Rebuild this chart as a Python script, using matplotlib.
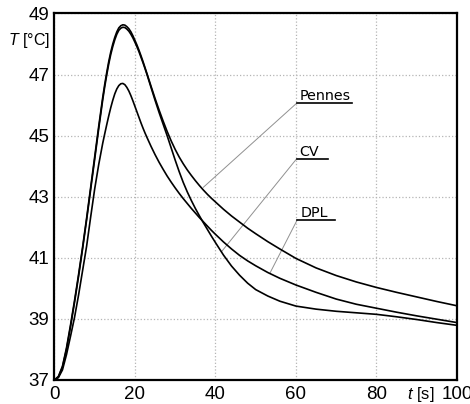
import matplotlib
matplotlib.use("Agg")
import matplotlib.pyplot as plt

plt.rcParams["mathtext.fontset"] = "custom"
plt.rcParams["mathtext.rm"] = "Liberation Sans"
plt.rcParams["mathtext.it"] = "Liberation Sans:italic"

# time [s], shared by the three models
t = [0, 1, 2, 3, 4, 5, 6, 7, 8, 9, 10, 11, 12, 12.5, 13, 13.5, 14, 14.5, 15, 15.5,
     16, 16.5, 17, 17.5, 18, 18.5, 19, 19.5, 20, 20.5, 21, 21.5, 22, 22.5, 23, 24,
     25, 26, 27, 28, 29, 30, 31, 32, 33, 34, 35, 36, 37, 38, 39, 40, 42, 44, 46, 48,
     50, 53, 56, 60, 65, 70, 75, 80, 85, 90, 95, 100]

T_pennes = [37.0, 37.12, 37.45, 38.05, 38.8, 39.6, 40.45, 41.35, 42.3, 43.3, 44.3, 45.3,
            46.25, 46.68, 47.07, 47.43, 47.74, 48.0, 48.22, 48.4,
            48.53, 48.6, 48.63, 48.62, 48.57, 48.5, 48.4, 48.27, 48.12, 47.97, 47.8,
            47.62, 47.43, 47.23, 47.03, 46.62,
            46.22, 45.84, 45.48, 45.14, 44.83, 44.55, 44.3, 44.08, 43.88, 43.7, 43.53,
            43.37, 43.22, 43.08, 42.95, 42.83, 42.59, 42.37, 42.17, 41.97,
            41.79, 41.53, 41.29, 40.98, 40.67, 40.42, 40.21, 40.03, 39.87, 39.72, 39.57,
            39.43]

T_cv = [37.0, 37.1, 37.42, 38.0, 38.74, 39.54, 40.39, 41.29, 42.24, 43.23, 44.22, 45.22,
        46.17, 46.6, 46.99, 47.35, 47.66, 47.92, 48.14, 48.32,
        48.45, 48.52, 48.55, 48.54, 48.49, 48.42, 48.32, 48.2, 48.06, 47.91, 47.75,
        47.57, 47.39, 47.2, 47.0, 46.58,
        46.16, 45.76, 45.38, 45.0, 44.6, 44.2, 43.82, 43.47, 43.16, 42.88, 42.62,
        42.38, 42.15, 41.93, 41.71, 41.5, 41.09, 40.73, 40.43, 40.17,
        39.96, 39.75, 39.58, 39.42, 39.32, 39.25, 39.2, 39.15, 39.07, 38.98, 38.88,
        38.79]

T_dpl = [37.0, 37.08, 37.33, 37.83, 38.43, 39.05, 39.78, 40.58, 41.38, 42.33, 43.25,
         44.05, 44.75, 45.06, 45.36, 45.65, 45.92, 46.16, 46.37, 46.53,
         46.64, 46.7, 46.71, 46.67, 46.58, 46.46, 46.31, 46.14, 45.96, 45.78, 45.6,
         45.42, 45.25, 45.09, 44.94, 44.65,
         44.38, 44.13, 43.9, 43.68, 43.48, 43.29, 43.11, 42.94, 42.78, 42.62, 42.47,
         42.32, 42.18, 42.04, 41.9, 41.77, 41.52, 41.29, 41.08, 40.9,
         40.74, 40.52, 40.33, 40.11, 39.87, 39.65, 39.48, 39.35, 39.22, 39.1, 38.99,
         38.88]

x_ticks = [0, 20, 40, 60, 80, 100]
y_ticks = [37, 39, 41, 43, 45, 47, 49]

# label: (point on curve, underline y, underline left, underline right)
labels = [
    ("Pennes", (37.0, 43.31), 46.06, 60.15, 73.8),
    ("CV", (41.5, 41.2), 44.24, 60.15, 68.0),
    ("DPL", (53.5, 40.49), 42.24, 60.3, 69.7),
]

fig = plt.figure(figsize=(4.7, 4.04), dpi=100)
ax = fig.add_axes([54.4 / 470, 24 / 404, (457 - 54.4) / 470, (380 - 13.5) / 404])

for T in [T_pennes, T_cv, T_dpl]:
    ax.plot(t, T, color="k", lw=1.2, zorder=3)

for name, (px, py), uy, ul, ur in labels:
    ax.plot([px, ul], [py, uy], color="#909090", lw=0.7, zorder=2)
    ax.plot([ul, ur], [uy, uy], color="k", lw=1.2, zorder=3)
    ax.annotate(name, xy=(ul, uy), xytext=(3, 3), textcoords="offset pixels",
                ha="left", va="baseline", fontsize=10.3, family="DejaVu Sans")

ax.set_xlim(0, 100)
ax.set_ylim(37, 49)
ax.set_xticks(x_ticks)
ax.set_yticks(y_ticks)
ax.tick_params(length=0, labelsize=13.5, pad=3.5)
ax.tick_params(axis="x", pad=4)
for lab in ax.get_xticklabels() + ax.get_yticklabels():
    lab.set_family("Liberation Sans")
ax.grid(True, color="#b5b5b5", ls=":", lw=0.9)
for s in ax.spines.values():
    s.set_linewidth(1.6)

fig.text(50 / 470, 1 - 40 / 404, "$T$ [°C]", ha="right", va="center", fontsize=11.5,
         family="Liberation Sans")
ax.annotate("$t$ [s]", xy=(91.1, 0), xycoords=("data", "axes fraction"),
            xytext=(0, -5), textcoords="offset pixels", ha="center", va="top",
            fontsize=12, family="Liberation Sans")

fig.savefig("out.png", dpi=100)
